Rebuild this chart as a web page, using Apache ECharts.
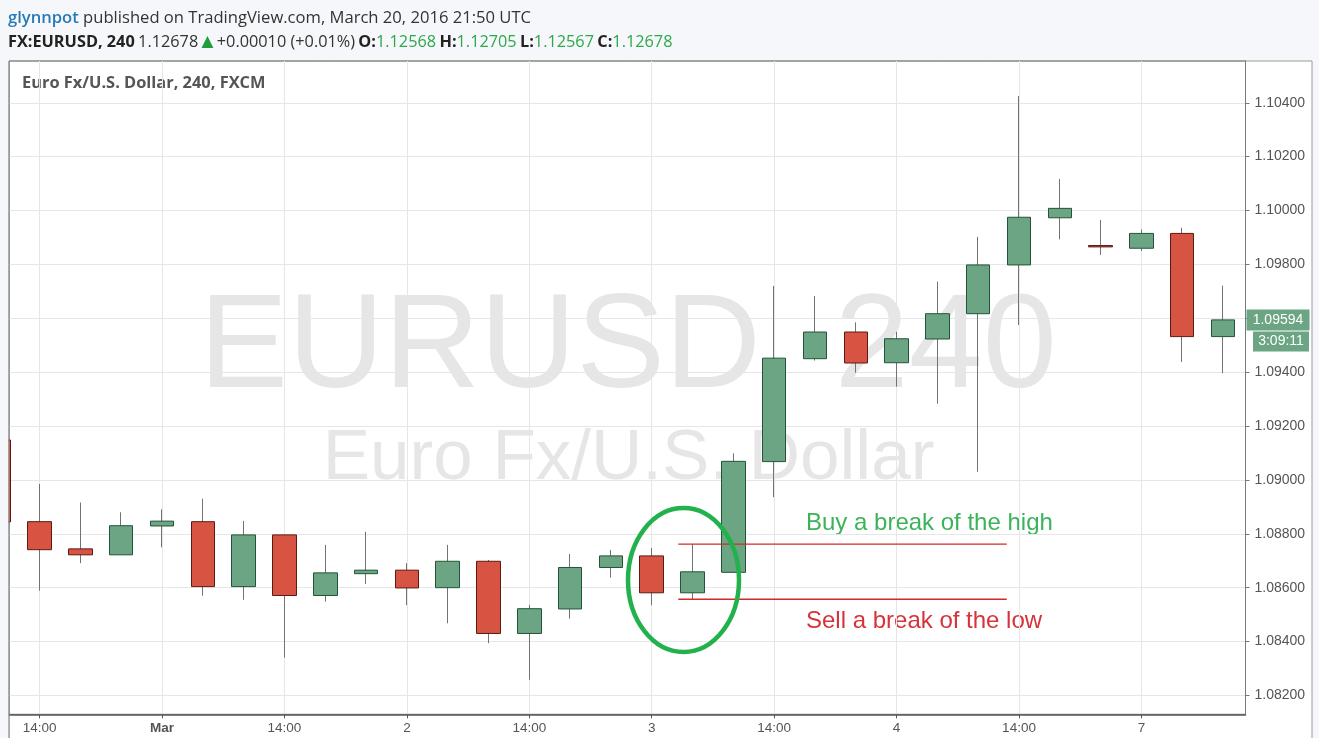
<!DOCTYPE html>
<html>
<head>
<meta charset="utf-8">
<script src="https://cdn.jsdelivr.net/npm/echarts@6/dist/echarts.min.js"></script>
<style>
html,body{margin:0;padding:0;background:#f5f7fa;}
#chart{width:1319px;height:738px;}
</style>
</head>
<body>
<div id="chart"></div>
<script>
// ---- data ----
const candleIndex = [-1,0,1,2,3,4,5,6,7,8,9,10,11,12,13,14,15,16,17,18,19,20,21,22,23,24,25,26,27,28,29];
const openPrices  = [1.09148,1.08845,1.08744,1.08722,1.08829,1.08845,1.08604,1.08796,1.08571,1.08652,1.08665,1.08600,1.08698,1.08430,1.08521,1.08675,1.08718,1.08581,1.08657,1.09068,1.09450,1.09549,1.09435,1.09523,1.09617,1.09798,1.09973,1.09870,1.09860,1.09915,1.09532];
const closePrices = [1.08844,1.08741,1.08722,1.08830,1.08847,1.08604,1.08796,1.08571,1.08655,1.08665,1.08599,1.08698,1.08430,1.08522,1.08675,1.08718,1.08581,1.08659,1.09069,1.09452,1.09549,1.09434,1.09524,1.09617,1.09798,1.09975,1.10008,1.09865,1.09915,1.09532,1.09594];
const lowPrices   = [1.08830,1.08589,1.08691,1.08722,1.08750,1.08570,1.08555,1.08340,1.08548,1.08614,1.08535,1.08468,1.08394,1.08258,1.08485,1.08637,1.08535,1.08557,1.08657,1.08936,1.09443,1.09398,1.09346,1.09283,1.09030,1.09575,1.09893,1.09835,1.09850,1.09438,1.09396];
const highPrices  = [1.09160,1.08985,1.08916,1.08880,1.08891,1.08930,1.08848,1.08796,1.08759,1.08808,1.08691,1.08759,1.08703,1.08536,1.08725,1.08740,1.08747,1.08762,1.09099,1.09720,1.09683,1.09585,1.09550,1.09736,1.09902,1.10425,1.10117,1.09965,1.09930,1.09936,1.09721];
const xTickPos    = [0,3,6,9,12,15,18,21,24,27];
const xTickLabels = ['14:00','Mar','14:00','2','14:00','3','14:00','4','14:00','7'];
const yTicks      = [1.082,1.084,1.086,1.088,1.090,1.092,1.094,1.096,1.098,1.100,1.102,1.104];
const xRange      = [-0.75, 29.55];
const yRange      = [1.0813, 1.10555];
const signalCandle = 17;          // position in arrays of the inside-bar candle (index 16)
const breakLineX  = [15.65, 23.7];
const lastPrice   = 1.09594;
const countdown   = '3:09:11';

// ---- chart ----
const chart = echarts.init(document.getElementById('chart'));
const wickData = candleIndex.map((x,i)=>[x, openPrices[i], closePrices[i], lowPrices[i], highPrices[i]]);
const bodyData = candleIndex.map((x,i)=>[x, openPrices[i], closePrices[i],
  Math.min(openPrices[i], closePrices[i]), Math.max(openPrices[i], closePrices[i])]);
const buyLevel = highPrices[signalCandle];
const sellLevel = lowPrices[signalCandle];
const levelSeries = (name, level) => ({
  name, type: 'line', data: breakLineX.map(x => [x, level]), showSymbol: false, symbol: 'none',
  silent: true, z: 5, lineStyle: {color: '#d42a2a', width: 1.3}, itemStyle: {color: '#d42a2a'}
});

const FONT = 'Liberation Sans';
chart.setOption({
  animation: false,
  backgroundColor: '#f5f7fa',
  grid: {left: 9, right: 73.5, top: 61, bottom: 23.7, show: true, backgroundColor: 'transparent', borderColor: '#7a7a7a', borderWidth: 1},
  xAxis: {
    type: 'value', min: xRange[0], max: xRange[1],
    axisLine: {show: true, onZero: false, lineStyle: {color: '#555', width: 1.5}},
    axisTick: {show: true, customValues: xTickPos, length: 4, lineStyle: {color: '#555'}},
    axisLabel: {customValues: xTickPos, margin: 7, fontFamily: FONT, fontSize: 13.5, color: '#555',
      formatter: v => { const l = xTickLabels[xTickPos.indexOf(v)]; return l === 'Mar' ? '{b|' + l + '}' : l; },
      rich: {b: {fontWeight: 'bold', fontFamily: FONT, fontSize: 13.5, color: '#555'}}},
    splitLine: {show: true, lineStyle: {color: '#e6e6e6', width: 1}}
  },
  yAxis: {
    type: 'value', position: 'right', min: yRange[0], max: yRange[1], scale: true,
    axisLine: {show: true, onZero: false, lineStyle: {color: '#7a7a7a'}},
    axisTick: {show: true, customValues: yTicks, length: 4, inside: false, lineStyle: {color: '#777'}},
    axisLabel: {customValues: yTicks, margin: 9, fontFamily: FONT, fontSize: 14, color: '#555',
      formatter: v => v.toFixed(5)},
    splitLine: {show: true, lineStyle: {color: '#e6e6e6', width: 1}}
  },
  series: [
    {
      name: 'wick', type: 'candlestick', data: wickData, encode: {x: 0, y: [1,2,3,4]},
      barWidth: 1, clip: true, silent: true,
      itemStyle: {color: '#737375', color0: '#737375', borderColor: '#737375', borderColor0: '#737375', borderWidth: 1}
    },
    {
      name: 'body', type: 'candlestick', data: bodyData, encode: {x: 0, y: [1,2,3,4]},
      barWidth: 24, clip: true,
      itemStyle: {color: '#6ba583', color0: '#d75442', borderColor: '#225437', borderColor0: '#5b1a13', borderWidth: 1}
    },
    levelSeries('buyLevel', buyLevel),
    levelSeries('sellLevel', sellLevel)
  ],
  graphic: [
    {id: 'frame', type: 'rect', z: -100, silent: true, shape: {x: 9, y: 61, width: 1303, height: 700},
      style: {fill: '#ffffff', stroke: '#9a9a9a', lineWidth: 1}},
    {id: 'wm1', type: 'text', z: -50, silent: true, x: 628, y: 350,
      style: {text: 'EURUSD, 240', font: '133px "Liberation Sans"', fill: '#e6e6e6', align: 'center', verticalAlign: 'middle'}},
    {id: 'wm2', type: 'text', z: -50, silent: true, x: 628.5, y: 459,
      style: {text: 'Euro Fx/U.S. Dollar', font: '71px "Liberation Sans"', fill: '#e6e6e6', align: 'center', verticalAlign: 'middle'}},
    {id: 'leftCover', type: 'rect', z: 200, silent: true, shape: {x: 0, y: 55, width: 8.5, height: 690},
      style: {fill: '#f5f7fa'}},
    {id: 'leftLine', type: 'line', z: 201, silent: true, shape: {x1: 9, y1: 61, x2: 9, y2: 738},
      style: {stroke: '#8a8a8a', lineWidth: 1}},
    {id: 'h1', type: 'text', x: 8, y: 18, silent: true,
      style: {text: '{u|glynnpot}{t| published on TradingView.com, March 20, 2016 21:50 UTC}', verticalAlign: 'middle',
        rich: {u: {fill: '#2a7ab8', font: '600 16.6px "Open Sans"'}, t: {fill: '#333', font: '16.6px "Open Sans"'}}}},
    {id: 'h2', type: 'text', x: 8, y: 42, silent: true,
      style: {text: '{b|FX:EURUSD, 240} {n|1.12678} {g|▲} {n|+0.00010 (+0.01%)} {b|O:}{v|1.12568} {b|H:}{v|1.12705} {b|L:}{v|1.12567} {b|C:}{v|1.12678}',
        verticalAlign: 'middle',
        rich: {b: {fill: '#222', font: 'bold 16.3px "Open Sans"'}, n: {fill: '#333', font: '16.3px "Open Sans"'},
          g: {fill: '#1e9e3c', font: '15.5px "DejaVu Sans"'}, v: {fill: '#2ea84a', font: '16.3px "Open Sans"'}}}},
    {id: 'title', type: 'text', x: 22, y: 83, silent: true,
      style: {text: 'Euro Fx/U.S. Dollar, 240, FXCM', font: 'bold 16.4px "Open Sans"', fill: '#555', verticalAlign: 'middle'}},
    {id: 'buyTxt', type: 'text', x: 806, y: 523, silent: true,
      style: {text: 'Buy a break of the high', font: '24px "Liberation Sans"', fill: '#3cb35a', verticalAlign: 'middle'}},
    {id: 'sellTxt', type: 'text', x: 806, y: 621, silent: true,
      style: {text: 'Sell a break of the low', font: '24px "Liberation Sans"', fill: '#d8323a', verticalAlign: 'middle'}},
    {id: 'circle', type: 'ellipse', silent: true, z: 100, shape: {cx: 683.5, cy: 580, rx: 55.5, ry: 72},
      style: {fill: 'none', stroke: '#22b14c', lineWidth: 4.5}}
  ]
});

const py = chart.convertToPixel({yAxisIndex: 0}, lastPrice);
chart.setOption({
  graphic: [
    {id: 'pl1', type: 'rect', silent: true, z: 50, shape: {x: 1246.5, y: py - 10.5, width: 63, height: 21},
      style: {fill: '#6ba583'}},
    {id: 'pl1t', type: 'text', silent: true, z: 51, x: 1278, y: py,
      style: {text: lastPrice.toFixed(5), font: '14px "Liberation Sans"', fill: '#fff', align: 'center', verticalAlign: 'middle'}},
    {id: 'pl2', type: 'rect', silent: true, z: 50, shape: {x: 1253, y: py + 11.5, width: 56, height: 20},
      style: {fill: '#6ba583'}},
    {id: 'pl2t', type: 'text', silent: true, z: 51, x: 1281, y: py + 21.5,
      style: {text: countdown, font: '14px "Liberation Sans"', fill: '#fff', align: 'center', verticalAlign: 'middle'}}
  ]
});
</script>
</body>
</html>
